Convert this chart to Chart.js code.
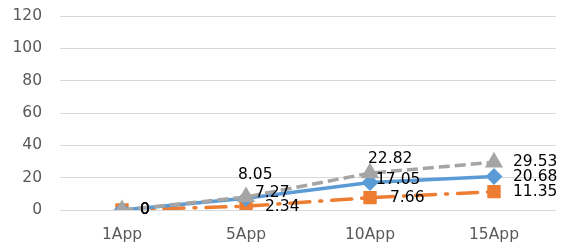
<!DOCTYPE html>
<html>
<head>
<meta charset="utf-8">
<script src="https://cdn.jsdelivr.net/npm/chart.js@4/dist/chart.umd.min.js"></script>
<style>
  html, body { margin: 0; padding: 0; background: #fff; }
  #wrap { width: 566px; height: 249px; }
</style>
</head>
<body>
<div id="wrap"><canvas id="chart"></canvas></div>
<script>
const categories = ["1App", "5App", "10App", "15App"];
const blueValues = [0, 7.27, 17.05, 20.68];
const orangeValues = [0, 2.34, 7.66, 11.35];
const grayValues = [0, 8.05, 22.82, 29.53];
const yTicks = [0, 20, 40, 60, 80, 100, 120];

// label offsets (dx, dy) from the point, per series
const blueOffsets = [[18, 0], [9, -5], [6, -2], [19, 0]];
const orangeOffsets = [[18, 0], [19, 1], [20, 0], [19, 0]];
const grayOffsets = [[18, 0], [-8, -22], [-2, -14], [19, 0]];

const labelPlugin = {
  id: "pointLabels",
  afterDatasetsDraw(chart) {
    const ctx = chart.ctx;
    ctx.save();
    ctx.font = "15.5px 'DejaVu Sans'";
    ctx.fillStyle = "#000";
    ctx.textAlign = "left";
    ctx.textBaseline = "middle";
    chart.data.datasets.forEach((ds, i) => {
      const meta = chart.getDatasetMeta(i);
      meta.data.forEach((pt, j) => {
        const off = ds.labelOffsets[j];
        ctx.fillText(String(ds.data[j]), pt.x + off[0], pt.y + off[1]);
      });
    });
    ctx.restore();
  }
};

new Chart(document.getElementById("chart"), {
  type: "line",
  data: {
    labels: categories,
    datasets: [
      {
        label: "gray",
        data: grayValues,
        labelOffsets: grayOffsets,
        borderColor: "#A5A5A5",
        backgroundColor: "#A5A5A5",
        borderWidth: 3.5,
        borderDash: [11, 5],
        pointStyle: "triangle",
        pointRadius: 7,
        order: 0
      },
      {
        label: "blue",
        data: blueValues,
        labelOffsets: blueOffsets,
        borderColor: "#5B9BD5",
        backgroundColor: "#5B9BD5",
        borderWidth: 3.5,
        pointStyle: "rectRot",
        pointRadius: 6,
        order: 1
      },
      {
        label: "orange",
        data: orangeValues,
        labelOffsets: orangeOffsets,
        borderColor: "#ED7D31",
        backgroundColor: "#ED7D31",
        borderWidth: 3.5,
        borderDash: [20, 10, 2, 10],
        borderCapStyle: "round",
        pointStyle: "rect",
        pointRadius: 7,
        order: 2
      }
    ]
  },
  options: {
    responsive: true,
    maintainAspectRatio: false,
    animation: false,
    layout: { autoPadding: false, padding: { top: 16, right: 10, left: 0, bottom: 0 } },
    plugins: { legend: { display: false }, tooltip: { enabled: false } },
    elements: { line: { tension: 0 }, point: { borderWidth: 0 } },
    scales: {
      x: {
        offset: true,
        afterFit(scale) { scale.height = 39; },
        grid: { display: false, drawTicks: false },
        border: { display: false },
        ticks: { color: "#595959", font: { family: "DejaVu Sans", size: 15.5 }, padding: 16 }
      },
      y: {
        min: 0,
        max: 120,
        afterBuildTicks(scale) { scale.ticks = yTicks.map(v => ({ value: v })); },
        afterFit(scale) {
          scale.width = 60;
          scale.paddingTop = 0;
          scale.paddingBottom = 0;
        },
        grid: { color: "#D9D9D9", lineWidth: 1, drawTicks: false },
        border: { display: false },
        ticks: { color: "#595959", font: { family: "DejaVu Sans", size: 15.5 }, padding: 18 }
      }
    }
  },
  plugins: [labelPlugin]
});
</script>
</body>
</html>
